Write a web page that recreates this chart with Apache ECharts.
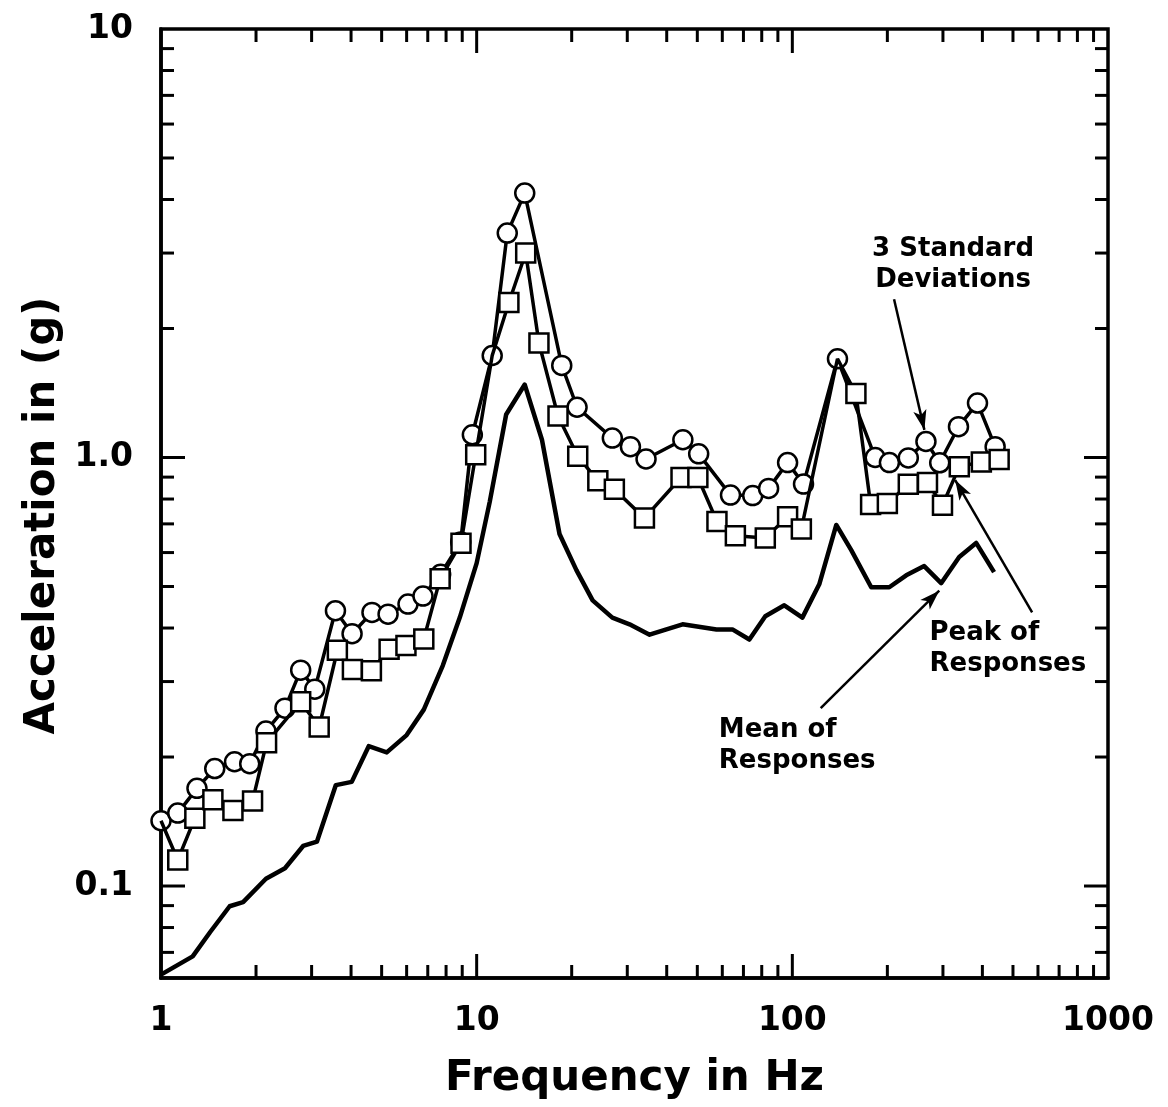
<!DOCTYPE html>
<html>
<head>
<meta charset="utf-8">
<script src="https://cdn.jsdelivr.net/npm/echarts@6/dist/echarts.min.js"></script>
<style>
  html, body { margin: 0; padding: 0; background: #fff; }
  #chart { width: 1168px; height: 1107px; }
</style>
</head>
<body>
<div id="chart"></div>
<script>
// Three standard deviations bound (circles): frequency in Hz, acceleration in g
const sigma3Freq  = [1.0, 1.13, 1.30, 1.48, 1.71, 1.91, 2.15, 2.47, 2.77, 3.07,
                     3.57, 4.03, 4.66, 5.24, 6.06, 6.76, 7.69, 8.90, 9.69, 11.2,
                     12.5, 14.2, 18.6, 20.8, 26.9, 30.7, 34.4, 45.0, 50.5, 63.7,
                     74.9, 84.1, 96.6, 108.5, 139, 183, 203, 233, 265, 293,
                     336, 386, 439];
const sigma3Accel = [0.142, 0.148, 0.169, 0.188, 0.195, 0.193, 0.230, 0.260, 0.319, 0.288,
                     0.439, 0.388, 0.435, 0.431, 0.455, 0.475, 0.534, 0.635, 1.13, 1.73,
                     3.34, 4.14, 1.64, 1.31, 1.11, 1.06, 0.992, 1.10, 1.02, 0.817,
                     0.815, 0.847, 0.973, 0.867, 1.70, 1.00, 0.973, 0.998, 1.09, 0.972,
                     1.18, 1.34, 1.06];

// Peak of responses (squares)
const peakFreq  = [1.0, 1.13, 1.28, 1.46, 1.69, 1.95, 2.16, 2.77, 3.17, 3.62,
                   4.04, 4.64, 5.28, 5.97, 6.80, 7.66, 8.92, 9.93, 11.2, 12.65,
                   14.3, 15.75, 18.1, 20.9, 24.2, 27.3, 34.0, 44.4, 50.2, 57.7,
                   66.0, 82.1, 96.6, 106.8, 139, 159, 177, 200, 233, 268,
                   299, 338, 397, 452];
const peakAccel = [0.142, 0.115, 0.144, 0.159, 0.150, 0.158, 0.216, 0.269, 0.235, 0.355,
                   0.320, 0.318, 0.357, 0.364, 0.377, 0.521, 0.631, 1.015, 1.73, 2.30,
                   3.00, 1.85, 1.25, 1.007, 0.882, 0.843, 0.722, 0.898, 0.898, 0.709,
                   0.657, 0.649, 0.727, 0.681, 1.70, 1.41, 0.777, 0.781, 0.866, 0.874,
                   0.774, 0.952, 0.976, 0.989];

// Mean of responses (plain line)
const meanFreq  = [1.0, 1.26, 1.43, 1.65, 1.82, 2.15, 2.47, 2.82, 3.12, 3.58,
                   4.02, 4.55, 5.19, 6.00, 6.80, 7.81, 8.84, 10.0, 11.0, 12.4,
                   14.2, 16.1, 18.3, 20.7, 23.3, 26.9, 30.5, 35.3, 44.9, 57.5,
                   64.6, 73.1, 82.1, 94.3, 107.6, 121.7, 137.8, 153.7, 177.8, 202.8,
                   229.5, 261.6, 296.1, 337.8, 382.2, 435.6];
const meanAccel = [0.0621, 0.0685, 0.078, 0.0897, 0.0917, 0.104, 0.110, 0.124, 0.127, 0.172,
                   0.175, 0.212, 0.205, 0.225, 0.258, 0.327, 0.423, 0.567, 0.788, 1.26,
                   1.48, 1.10, 0.663, 0.546, 0.464, 0.423, 0.408, 0.386, 0.408, 0.397,
                   0.397, 0.376, 0.426, 0.452, 0.423, 0.506, 0.696, 0.608, 0.498, 0.498,
                   0.531, 0.558, 0.509, 0.586, 0.632, 0.54];

// Axis ticks and labels
const xLabelValues = [1, 10, 100, 1000];
const xLabelTexts  = ['1', '10', '100', '1000'];
const yLabelValues = [0.1, 1, 10];
const yLabelTexts  = ['0.1', '1.0', '10'];
const xMajorTicks  = [10, 100];
const xMinorTicks  = [2, 3, 4, 5, 6, 7, 8, 9, 20, 30, 40, 50, 60, 70, 80, 90,
                      200, 300, 400, 500, 600, 700, 800, 900];
const yMajorTicks  = [0.1, 1];
const yMinorTicks  = [0.07, 0.08, 0.09, 0.2, 0.3, 0.4, 0.5, 0.6, 0.7, 0.8, 0.9,
                      2, 3, 4, 5, 6, 7, 8, 9];

// Callout texts, their anchors and arrows (frequency, acceleration)
const noteTexts   = ['3 Standard\nDeviations', 'Peak of\nResponses', 'Mean of\nResponses'];
const noteAnchors = [[323, 2.81], [272, 0.358], [58.5, 0.212]];
const noteAligns  = ['center', 'left', 'left'];
const arrowFrom   = [[210, 2.34], [575, 0.435], [123, 0.260]];
const arrowTo     = [[262, 1.16], [328, 0.886], [292, 0.489]];

const FONT = 'DejaVu Sans';
const INK = '#000';

function pairs(fs, vs) { return fs.map((f, i) => [f, vs[i]]); }

function labelFor(values, texts) {
  return function (v) {
    for (let i = 0; i < values.length; i++) {
      if (Math.abs(Math.log10(v) - Math.log10(values[i])) < 1e-6) return texts[i];
    }
    return '';
  };
}

// Tick marks drawn inward on all four sides of the frame
function tickSeries(values, len, dir) {
  return {
    type: 'custom',
    silent: true,
    animation: false,
    clip: false,
    z: 6,
    data: values.map(v => dir === 'x' ? [v, 1] : [1, v]),
    renderItem: function (params, api) {
      const cs = params.coordSys;
      const p = api.coord([api.value(0), api.value(1)]);
      const style = { stroke: INK, lineWidth: 3 };
      if (dir === 'x') {
        const x = p[0];
        const b = cs.y + cs.height;
        return {
          type: 'group',
          children: [
            { type: 'line', shape: { x1: x, y1: b, x2: x, y2: b - len }, style: style },
            { type: 'line', shape: { x1: x, y1: cs.y, x2: x, y2: cs.y + len }, style: style }
          ]
        };
      }
      const y = p[1];
      const r = cs.x + cs.width;
      return {
        type: 'group',
        children: [
          { type: 'line', shape: { x1: cs.x, y1: y, x2: cs.x + len, y2: y }, style: style },
          { type: 'line', shape: { x1: r, y1: y, x2: r - len, y2: y }, style: style }
        ]
      };
    }
  };
}

const sigmaPairs = pairs(sigma3Freq, sigma3Accel);
// a square that coincides with a circle is left unmarked
const peakData = pairs(peakFreq, peakAccel).map(p => {
  const hidden = sigmaPairs.some(s => s[0] === p[0] && s[1] === p[1]);
  return hidden ? { value: p, symbol: 'none' } : p;
});

const chart = echarts.init(document.getElementById('chart'), null, { renderer: 'canvas' });

chart.setOption({
  animation: false,
  backgroundColor: '#fff',
  textStyle: { fontFamily: FONT, color: INK },
  grid: {
    left: 161, right: 60, top: 29, bottom: 129,
    show: true, borderColor: INK, borderWidth: 3.5, backgroundColor: 'transparent'
  },
  xAxis: {
    type: 'log',
    logBase: 10,
    min: 1,
    max: 1000,
    name: 'Frequency in Hz',
    nameLocation: 'middle',
    nameGap: 80,
    nameTextStyle: { fontFamily: FONT, fontWeight: 'bold', fontSize: 42, color: INK },
    axisLine: { show: true, lineStyle: { color: INK, width: 3.5 } },
    axisTick: { show: false },
    splitLine: { show: false },
    minorTick: { show: false },
    axisLabel: {
      margin: 27,
      fontFamily: FONT, fontWeight: 'bold', fontSize: 33, color: INK,
      formatter: labelFor(xLabelValues, xLabelTexts)
    }
  },
  yAxis: {
    type: 'log',
    logBase: 10,
    min: 0.061,
    max: 10,
    name: 'Acceleration in (g)',
    nameLocation: 'middle',
    nameGap: 90,
    nameRotate: 90,
    nameTextStyle: {
      fontFamily: FONT, fontWeight: 'bold', fontSize: 42, color: INK,
      padding: [0, 24, 0, 0]
    },
    axisLine: { show: true, lineStyle: { color: INK, width: 3.5 } },
    axisTick: { show: false },
    splitLine: { show: false },
    minorTick: { show: false },
    axisLabel: {
      margin: 28,
      fontFamily: FONT, fontWeight: 'bold', fontSize: 33, color: INK,
      formatter: labelFor(yLabelValues, yLabelTexts)
    }
  },
  series: [
    {
      name: 'Mean of Responses',
      type: 'line',
      data: pairs(meanFreq, meanAccel),
      symbol: 'none',
      lineStyle: { color: INK, width: 4.5, join: 'round' },
      z: 3
    },
    {
      name: '3 Standard Deviations',
      type: 'line',
      data: sigmaPairs,
      symbol: 'circle',
      symbolSize: 19,
      itemStyle: { color: '#fff', borderColor: INK, borderWidth: 2.5 },
      lineStyle: { color: INK, width: 3.5 },
      z: 4
    },
    {
      name: 'Peak of Responses',
      type: 'line',
      data: peakData,
      symbol: 'rect',
      symbolSize: 19,
      itemStyle: { color: '#fff', borderColor: INK, borderWidth: 2.5 },
      lineStyle: { color: INK, width: 3.5 },
      z: 5
    },
    {
      name: 'notes',
      type: 'scatter',
      silent: true,
      symbolSize: 0,
      itemStyle: { opacity: 1 },
      z: 7,
      data: noteTexts.map((t, i) => ({
        value: noteAnchors[i],
        name: t,
        label: {
          show: true,
          position: noteAligns[i] === 'center' ? 'inside' : 'right',
          distance: 0,
          align: noteAligns[i],
          verticalAlign: 'middle',
          formatter: '{b}',
          fontFamily: FONT, fontWeight: 'bold', fontSize: 26, lineHeight: 31,
          color: INK, opacity: 1, textBorderWidth: 0
        }
      })),
      markLine: {
        silent: true,
        animation: false,
        symbol: ['none', 'arrow'],
        symbolSize: [10, 20],
        lineStyle: { color: INK, width: 2.5, type: 'solid', opacity: 1 },
        label: { show: false },
        emphasis: { disabled: true },
        data: arrowFrom.map((a, i) => [{ coord: a }, { coord: arrowTo[i] }])
      }
    },
    tickSeries(xMajorTicks, 24, 'x'),
    tickSeries(xMinorTicks, 13, 'x'),
    tickSeries(yMajorTicks, 24, 'y'),
    tickSeries(yMinorTicks, 13, 'y')
  ]
});
</script>
</body>
</html>
